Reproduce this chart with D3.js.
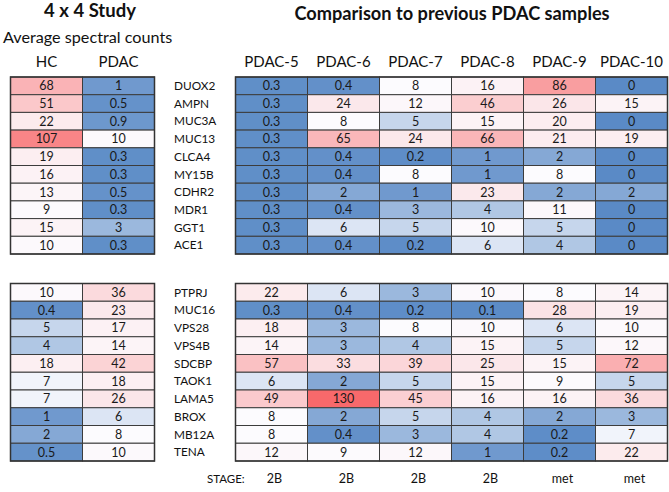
<!DOCTYPE html>
<html>
<head>
<meta charset="utf-8">
<script src="https://cdn.jsdelivr.net/npm/d3@7"></script>
<style>
  html, body { margin: 0; padding: 0; background: #fff; }
  svg { display: block; font-family: Lato, "Open Sans", sans-serif; }
</style>
</head>
<body>
<svg id="chart" width="669" height="492"></svg>
<script>
// ---------- data ----------
const genesTop = ["DUOX2","AMPN","MUC3A","MUC13","CLCA4","MY15B","CDHR2","MDR1","GGT1","ACE1"];
const genesBottom = ["PTPRJ","MUC16","VPS28","VPS4B","SDCBP","TAOK1","LAMA5","BROX","MB12A","TENA"];
const studyCols = ["HC","PDAC"];
const hcTop = [68,51,22,107,19,16,13,9,15,10];
const pdacTop = [1,0.5,0.9,10,0.3,0.3,0.5,0.3,3,0.3];
const hcBottom = [10,0.4,5,4,18,7,7,1,2,0.5];
const pdacBottom = [36,23,17,14,42,18,26,6,8,10];

const samples = ["PDAC-5","PDAC-6","PDAC-7","PDAC-8","PDAC-9","PDAC-10"];
const stages = ["2B","2B","2B","2B","met","met"];
// rows = genes, columns = samples
const prevTop = [
  [0.3,0.4,8,16,86,0],
  [0.3,24,12,46,26,15],
  [0.3,8,5,15,20,0],
  [0.3,65,24,66,21,19],
  [0.3,0.4,0.2,1,2,0],
  [0.3,0.4,8,1,8,0],
  [0.3,2,1,23,2,2],
  [0.3,0.4,3,4,11,0],
  [0.3,6,5,10,5,0],
  [0.3,0.4,0.2,6,4,0]
];
const prevBottom = [
  [22,6,3,10,8,14],
  [0.3,0.4,0.2,0.1,28,19],
  [18,3,8,10,6,10],
  [14,3,4,15,5,12],
  [57,33,39,25,15,72],
  [6,2,5,15,9,5],
  [49,130,45,16,16,36],
  [8,2,5,4,2,3],
  [8,0.4,3,4,0.2,7],
  [12,9,12,1,0.2,22]
];

// ---------- layout ----------
const svg = d3.select("#chart");
const color = d3.scaleLinear()
  .domain([0, 7.5, 130])
  .range(["#5A8AC6", "#FCFCFF", "#F8696B"])
  .interpolate(d3.interpolateRgb)
  .clamp(true);

const xLeft = d3.scaleBand().domain(studyCols).range([10.5, 154.5]);
const xRight = d3.scaleBand().domain(samples).range([235.5, 667.5]);
const yTop = d3.scaleBand().domain(genesTop).range([77, 254]);
const yBottom = d3.scaleBand().domain(genesBottom).range([283.5, 461]);

function drawTable(cells, x, y) {
  const g = svg.append("g");
  const cg = g.selectAll("g.cell").data(cells).join("g").attr("class", "cell");
  cg.append("rect")
    .attr("x", d => x(d.col))
    .attr("y", d => y(d.row))
    .attr("width", x.bandwidth())
    .attr("height", y.bandwidth())
    .attr("fill", d => color(d.v))
    .attr("stroke", "#3c3c3c")
    .attr("stroke-width", 1);
  cg.append("text")
    .attr("x", d => x(d.col) + x.bandwidth() / 2)
    .attr("y", d => y(d.row) + y.bandwidth() / 2)
    .attr("dy", "0.36em")
    .attr("text-anchor", "middle")
    .attr("font-size", 12.5)
    .attr("fill", "#1a1a1a")
    .text(d => d.v);
  const [x0, x1] = x.range(), [y0, y1] = y.range();
  g.append("rect")
    .attr("x", x0).attr("y", y0)
    .attr("width", x1 - x0).attr("height", y1 - y0)
    .attr("fill", "none").attr("stroke", "#333").attr("stroke-width", 1.5);
}

function leftCells(genes, hc, pdac) {
  const out = [];
  genes.forEach((g, i) => {
    out.push({row: g, col: "HC", v: hc[i]});
    out.push({row: g, col: "PDAC", v: pdac[i]});
  });
  return out;
}
function rightCells(genes, mat) {
  const out = [];
  genes.forEach((g, i) => samples.forEach((s, j) => out.push({row: g, col: s, v: mat[i][j]})));
  return out;
}

drawTable(leftCells(genesTop, hcTop, pdacTop), xLeft, yTop);
drawTable(leftCells(genesBottom, hcBottom, pdacBottom), xLeft, yBottom);
drawTable(rightCells(genesTop, prevTop), xRight, yTop);
drawTable(rightCells(genesBottom, prevBottom), xRight, yBottom);

// gene labels
function geneLabels(genes, y) {
  svg.append("g").selectAll("text").data(genes).join("text")
    .attr("x", 174)
    .attr("y", d => y(d) + y.bandwidth() / 2)
    .attr("dy", "0.36em")
    .attr("font-size", 11.8)
    .attr("fill", "#111")
    .text(d => d);
}
geneLabels(genesTop, yTop);
geneLabels(genesBottom, yBottom);

// column headers
svg.append("g").selectAll("text").data(studyCols).join("text")
  .attr("x", d => xLeft(d) + xLeft.bandwidth() / 2)
  .attr("y", 67)
  .attr("text-anchor", "middle")
  .attr("font-size", 15)
  .attr("fill", "#111")
  .text(d => d);
svg.append("g").selectAll("text").data(samples).join("text")
  .attr("x", d => xRight(d) + xRight.bandwidth() / 2)
  .attr("y", 67)
  .attr("text-anchor", "middle")
  .attr("font-size", 15)
  .attr("fill", "#111")
  .text(d => d);

// titles
svg.append("text").attr("x", 90).attr("y", 17).attr("text-anchor", "middle")
  .attr("font-size", 18.5).attr("font-weight", "bold").attr("fill", "#111").text("4 x 4 Study");
svg.append("text").attr("x", 3).attr("y", 43)
  .attr("font-size", 16.2).attr("fill", "#111").text("Average spectral counts");
svg.append("text").attr("x", 452).attr("y", 20).attr("text-anchor", "middle")
  .attr("font-size", 18.2).attr("font-weight", "bold").attr("fill", "#111").text("Comparison to previous PDAC samples");

// stage row
svg.append("text").attr("x", 207).attr("y", 483)
  .attr("font-size", 11.5).attr("fill", "#111").text("STAGE:");
svg.append("g").selectAll("text").data(samples).join("text")
  .attr("x", d => xRight(d) + xRight.bandwidth() / 2 + 3)
  .attr("y", 483)
  .attr("text-anchor", "middle")
  .attr("font-size", 12.5)
  .attr("fill", "#111")
  .text((d, i) => stages[i]);
</script>
</body>
</html>
